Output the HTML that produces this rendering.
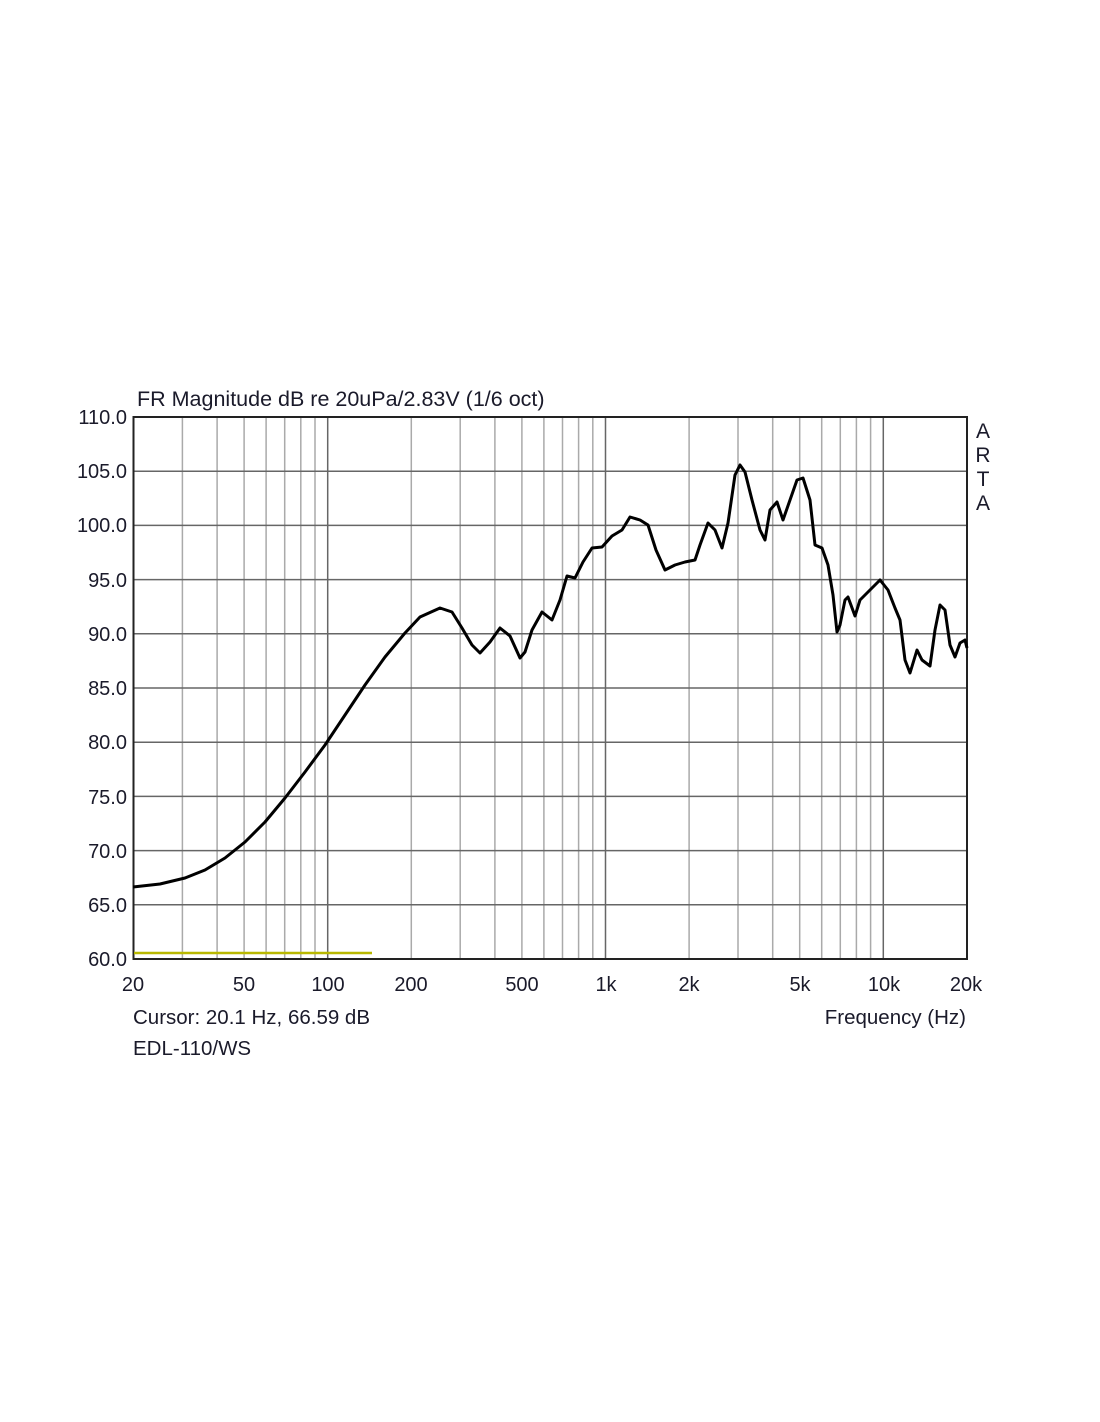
<!DOCTYPE html>
<html><head><style>body{margin:0;background:#fff}svg{display:block}text{font-family:"Liberation Sans",sans-serif;fill:#1a1a2a}</style></head><body>
<svg width="1100" height="1422" xmlns="http://www.w3.org/2000/svg">
<g stroke="#aaa" stroke-width="1.5">
<line x1="182.4" x2="182.4" y1="417" y2="959"/><line x1="217.1" x2="217.1" y1="417" y2="959"/><line x1="244.1" x2="244.1" y1="417" y2="959"/><line x1="266.1" x2="266.1" y1="417" y2="959"/><line x1="284.7" x2="284.7" y1="417" y2="959"/><line x1="300.8" x2="300.8" y1="417" y2="959"/><line x1="315" x2="315" y1="417" y2="959"/>
<line x1="411.3" x2="411.3" y1="417" y2="959"/><line x1="460.2" x2="460.2" y1="417" y2="959"/><line x1="494.9" x2="494.9" y1="417" y2="959"/><line x1="521.9" x2="521.9" y1="417" y2="959"/><line x1="543.9" x2="543.9" y1="417" y2="959"/><line x1="562.5" x2="562.5" y1="417" y2="959"/><line x1="578.6" x2="578.6" y1="417" y2="959"/><line x1="592.8" x2="592.8" y1="417" y2="959"/>
<line x1="689.1" x2="689.1" y1="417" y2="959"/><line x1="738" x2="738" y1="417" y2="959"/><line x1="772.7" x2="772.7" y1="417" y2="959"/><line x1="799.7" x2="799.7" y1="417" y2="959"/><line x1="821.7" x2="821.7" y1="417" y2="959"/><line x1="840.3" x2="840.3" y1="417" y2="959"/><line x1="856.4" x2="856.4" y1="417" y2="959"/><line x1="870.6" x2="870.6" y1="417" y2="959"/>
</g>
<g stroke="#666" stroke-width="1.5">
<line x1="327.7" x2="327.7" y1="417" y2="959"/><line x1="605.5" x2="605.5" y1="417" y2="959"/><line x1="883.3" x2="883.3" y1="417" y2="959"/>
<line x1="133.5" x2="967" y1="471.2" y2="471.2"/><line x1="133.5" x2="967" y1="525.4" y2="525.4"/><line x1="133.5" x2="967" y1="579.6" y2="579.6"/><line x1="133.5" x2="967" y1="633.8" y2="633.8"/><line x1="133.5" x2="967" y1="688" y2="688"/><line x1="133.5" x2="967" y1="742.2" y2="742.2"/><line x1="133.5" x2="967" y1="796.4" y2="796.4"/><line x1="133.5" x2="967" y1="850.6" y2="850.6"/><line x1="133.5" x2="967" y1="904.8" y2="904.8"/>
</g>
<rect x="133.5" y="417" width="833.5" height="542" fill="none" stroke="#222" stroke-width="2"/>
<line x1="134" y1="953" x2="372" y2="953" stroke="#b8b800" stroke-width="2.5"/>
<polyline fill="none" stroke="#000" stroke-width="3" stroke-linejoin="round" points="133,887 160,884 185,878 205,870 225,858 245,842 265,822 285,798 305,772 325,745 345,715 365,685 385,657 405,633 420,617 440,608 452,612 462,628 472,645 480,653 490,642 500,628 510,636 520,658 525,652 532,630 542,612 552,620 560,600 567,576 575,578 583,562 592,548 602,547 612,536 622,530 630,517 640,520 648,525 656,550 665,570 675,565 685,562 695,560 700,545 708,523 715,530 722,548 728,523 735,475 740,465 745,472 752,500 760,530 765,540 770,510 777,502 783,520 790,500 797,480 803,478 810,500 815,545 822,548 828,565 833,595 837,632 840,625 845,600 848,597 855,616 860,600 872,588 880,580 888,590 895,608 900,620 905,660 910,673 917,650 922,660 930,666 935,630 940,605 945,610 950,645 955,657 960,643 965,640 967,648"/>
<text x="137" y="406" font-size="21.5">FR Magnitude dB re 20uPa/2.83V (1/6 oct)</text>
<g font-size="20" text-anchor="end">
<text x="127" y="424">110.0</text><text x="127" y="478">105.0</text><text x="127" y="532">100.0</text><text x="127" y="587">95.0</text><text x="127" y="641">90.0</text><text x="127" y="695">85.0</text><text x="127" y="749">80.0</text><text x="127" y="804">75.0</text><text x="127" y="858">70.0</text><text x="127" y="912">65.0</text><text x="127" y="966">60.0</text></g>
<g font-size="20" text-anchor="middle">
<text x="133" y="991">20</text><text x="244" y="991">50</text><text x="328" y="991">100</text><text x="411" y="991">200</text><text x="522" y="991">500</text><text x="606" y="991">1k</text><text x="689" y="991">2k</text><text x="800" y="991">5k</text><text x="884" y="991">10k</text><text x="966" y="991">20k</text></g>
<g font-size="21" text-anchor="middle"><text x="983" y="438">A</text><text x="983" y="462">R</text><text x="983" y="486">T</text><text x="983" y="510">A</text></g>
<text x="133" y="1024" font-size="20.5">Cursor: 20.1 Hz, 66.59 dB</text>
<text x="966" y="1024" font-size="20.5" text-anchor="end">Frequency (Hz)</text>
<text x="133" y="1055" font-size="20.5">EDL-110/WS</text>
</svg></body></html>
